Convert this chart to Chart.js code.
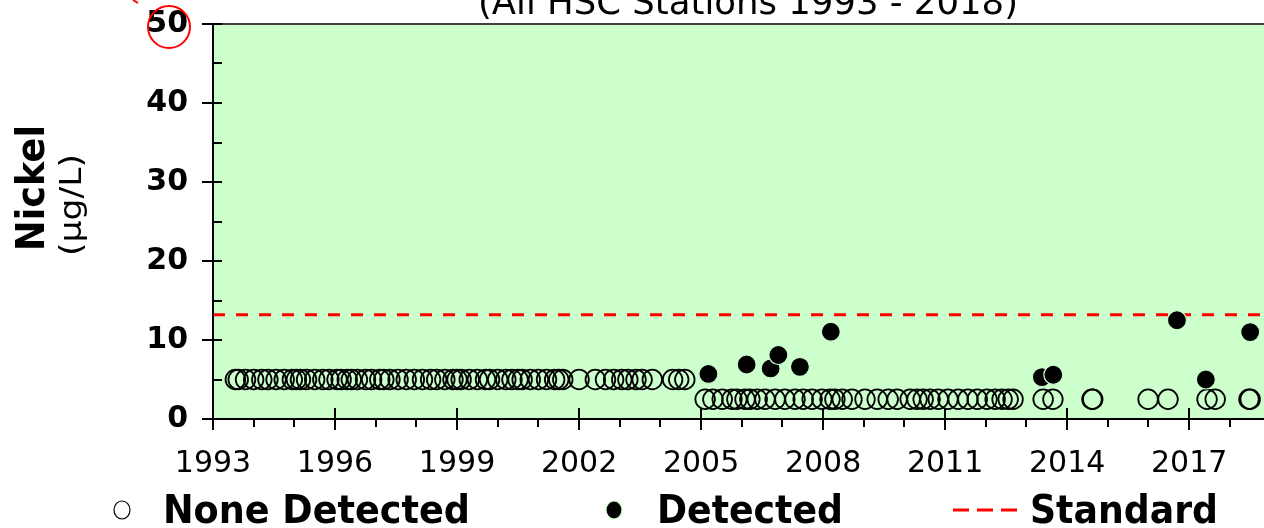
<!DOCTYPE html>
<html>
<head>
<meta charset="utf-8">
<script src="https://cdn.jsdelivr.net/npm/chart.js@4"></script>
<style>
  body { margin: 0; background: #fff; overflow: hidden; }
</style>
</head>
<body>
<canvas id="chart" width="1264" height="528"></canvas>
<script>
// sample dates (decimal years) and results
const noneDetectedDates = [
  1993.55, 1993.62, 1993.8, 1994.0, 1994.2, 1994.35, 1994.55, 1994.75, 1994.95, 1995.05,
  1995.15, 1995.3, 1995.5, 1995.7, 1995.85, 1996.05, 1996.15, 1996.3, 1996.4, 1996.55,
  1996.75, 1996.9, 1997.1, 1997.2, 1997.35, 1997.55, 1997.75, 1997.95, 1998.15, 1998.35,
  1998.5, 1998.7, 1998.9, 1999.0, 1999.1, 1999.3, 1999.5, 1999.7, 1999.8, 2000.0,
  2000.2, 2000.35, 2000.5, 2000.6, 2000.8, 2001.0, 2001.2, 2001.4, 2001.5, 2001.6,
  2002.0, 2002.4, 2002.65, 2002.85, 2003.05, 2003.2, 2003.4, 2003.55, 2003.8, 2004.3,
  2004.45, 2004.6,
  2005.1, 2005.29, 2005.52, 2005.76, 2005.88, 2006.08, 2006.2, 2006.38, 2006.57, 2006.82,
  2007.06, 2007.31, 2007.51, 2007.73, 2007.97, 2008.17, 2008.29, 2008.47, 2008.71, 2009.03,
  2009.33, 2009.6, 2009.82, 2010.14, 2010.31, 2010.46, 2010.63, 2010.83, 2011.07, 2011.32,
  2011.56, 2011.79, 2012.03, 2012.23, 2012.4, 2012.55, 2012.67,
  2013.41, 2013.65, 2014.61, 2014.63, 2015.99, 2016.48, 2017.44, 2017.64, 2018.47, 2018.5
];
const noneDetectedValues = [
  5, 5, 5, 5, 5, 5, 5, 5, 5, 5,
  5, 5, 5, 5, 5, 5, 5, 5, 5, 5,
  5, 5, 5, 5, 5, 5, 5, 5, 5, 5,
  5, 5, 5, 5, 5, 5, 5, 5, 5, 5,
  5, 5, 5, 5, 5, 5, 5, 5, 5, 5,
  5, 5, 5, 5, 5, 5, 5, 5, 5, 5,
  5, 5,
  2.5, 2.5, 2.5, 2.5, 2.5, 2.5, 2.5, 2.5, 2.5, 2.5,
  2.5, 2.5, 2.5, 2.5, 2.5, 2.5, 2.5, 2.5, 2.5, 2.5,
  2.5, 2.5, 2.5, 2.5, 2.5, 2.5, 2.5, 2.5, 2.5, 2.5,
  2.5, 2.5, 2.5, 2.5, 2.5, 2.5, 2.5,
  2.5, 2.5, 2.5, 2.5, 2.5, 2.5, 2.5, 2.5, 2.5, 2.5
];
const detectedDates = [2005.18, 2006.12, 2006.71, 2006.9, 2007.43, 2008.19, 2013.38, 2013.66, 2016.7, 2017.41, 2018.5];
const detectedValues = [5.7, 6.9, 6.4, 8.1, 6.6, 11.05, 5.3, 5.6, 12.5, 5.0, 11.0];
const standardValue = 13.2;

const xYears = [1993, 1994, 1995, 1996, 1997, 1998, 1999, 2000, 2001, 2002, 2003, 2004, 2005,
  2006, 2007, 2008, 2009, 2010, 2011, 2012, 2013, 2014, 2015, 2016, 2017, 2018];
const xTickLabels = [1993, 1996, 1999, 2002, 2005, 2008, 2011, 2014, 2017];
const yTicks = [0, 5, 10, 15, 20, 25, 30, 35, 40, 45, 50];
const yTickLabels = [0, 10, 20, 30, 40, 50];

const xMin = 1993, xMax = 2018.84;

const GREEN = "#ccffcc";
const FONT = "'DejaVu Sans', Verdana, sans-serif";

function toPoints(xs, ys) {
  return xs.map((x, i) => ({ x: x, y: ys[i] }));
}

// text stretched or squeezed horizontally to a given width
function fitText(ctx, text, x, y, width) {
  let w = ctx.measureText(text).width;
  let s = width / w;
  ctx.save();
  ctx.translate(x, y);
  ctx.scale(s, 1);
  ctx.fillText(text, 0, 0);
  ctx.restore();
}

const decorations = {
  id: "decorations",
  beforeDraw(chart) {
    let { ctx, chartArea: a } = chart;
    ctx.save();
    ctx.fillStyle = GREEN;
    ctx.fillRect(a.left, a.top, a.right - a.left, a.bottom - a.top);
    ctx.restore();
  },
  afterDraw(chart) {
    let { ctx, chartArea: a } = chart;
    let xs = chart.scales.x, ys = chart.scales.y;
    ctx.save();

    // frame
    ctx.strokeStyle = "#404040";
    ctx.lineWidth = 2;
    ctx.beginPath();
    ctx.moveTo(a.left, a.top);
    ctx.lineTo(a.right, a.top);
    ctx.stroke();
    ctx.strokeStyle = "#000";
    ctx.beginPath();
    ctx.moveTo(a.left, a.top - 1);
    ctx.lineTo(a.left, a.bottom);
    ctx.lineTo(a.right, a.bottom);
    ctx.stroke();

    // y ticks
    yTicks.forEach((v) => {
      let y = Math.round(ys.getPixelForValue(v));
      let major = yTickLabels.includes(v);
      ctx.beginPath();
      ctx.moveTo(major ? a.left - 11 : a.left, y);
      ctx.lineTo(a.left + 9, y);
      ctx.stroke();
    });
    // x ticks
    xYears.forEach((v) => {
      let x = Math.round(xs.getPixelForValue(v));
      let major = xTickLabels.includes(v);
      ctx.beginPath();
      ctx.moveTo(x, major ? a.bottom - 11 : a.bottom);
      ctx.lineTo(x, major ? a.bottom + 11 : a.bottom + 8);
      ctx.stroke();
    });

    // title (cut off at the top)
    ctx.fillStyle = "#000";
    ctx.font = "35px " + FONT;
    ctx.textAlign = "left";
    ctx.textBaseline = "alphabetic";
    fitText(ctx, "(All HSC Stations 1993 - 2018)", 478, 14, 540);

    // y axis title
    ctx.save();
    ctx.translate(44, 251);
    ctx.rotate(-Math.PI / 2);
    ctx.font = "bold 39px " + FONT;
    fitText(ctx, "Nickel", 0, 0, 126);
    ctx.restore();
    ctx.save();
    ctx.translate(81, 256);
    ctx.rotate(-Math.PI / 2);
    ctx.font = "30px " + FONT;
    fitText(ctx, "(µg/L)", 0, 0, 102);
    ctx.restore();

    // red circle around the top label
    ctx.strokeStyle = "#ff0000";
    ctx.lineWidth = 2;
    ctx.beginPath();
    ctx.arc(169, 27, 21, 0, Math.PI * 2);
    ctx.stroke();
    ctx.beginPath();
    ctx.moveTo(133, 0);
    ctx.lineTo(138, 3);
    ctx.stroke();

    // legend
    let ly = 510;
    ctx.lineWidth = 1.2;
    ctx.strokeStyle = "#000";
    ctx.fillStyle = "#fff";
    ctx.beginPath();
    ctx.ellipse(122, ly, 8, 9, 0, 0, Math.PI * 2);
    ctx.fill();
    ctx.stroke();
    ctx.fillStyle = "#000";
    ctx.strokeStyle = GREEN;
    ctx.beginPath();
    ctx.ellipse(614, ly, 8, 9, 0, 0, Math.PI * 2);
    ctx.fill();
    ctx.stroke();
    ctx.strokeStyle = "#ff0000";
    ctx.lineWidth = 3;
    ctx.setLineDash([16, 8]);
    ctx.beginPath();
    ctx.moveTo(953, ly);
    ctx.lineTo(1019, ly);
    ctx.stroke();
    ctx.setLineDash([]);

    ctx.fillStyle = "#000";
    ctx.font = "bold 39px " + FONT;
    ctx.textBaseline = "alphabetic";
    fitText(ctx, "None Detected", 163, 523, 307);
    fitText(ctx, "Detected", 657, 523, 186);
    fitText(ctx, "Standard", 1030, 523, 188);

    ctx.restore();
  },
};

const ctx = document.getElementById("chart").getContext("2d");
new Chart(ctx, {
  type: "scatter",
  data: {
    datasets: [
      {
        label: "Detected",
        data: toPoints(detectedDates, detectedValues),
        pointRadius: 9.5,
        pointBackgroundColor: "#000",
        pointBorderColor: GREEN,
        pointBorderWidth: 1.2,
        order: 0,
      },
      {
        label: "Standard",
        type: "line",
        data: [
          { x: xMin, y: standardValue },
          { x: xMax, y: standardValue },
        ],
        borderColor: "#ff0000",
        borderWidth: 3,
        borderDash: [12, 11],
        pointRadius: 0,
        fill: false,
        order: 1,
      },
      {
        label: "None Detected",
        data: toPoints(noneDetectedDates, noneDetectedValues),
        pointRadius: 9.8,
        pointBackgroundColor: "rgba(0,0,0,0)",
        pointBorderColor: "#000",
        pointBorderWidth: 1.8,
        order: 2,
      },
    ],
  },
  options: {
    responsive: false,
    animation: false,
    events: [],
    layout: { autoPadding: false, padding: { top: 24, right: 0, bottom: 0, left: 0 } },
    plugins: {
      legend: { display: false },
      tooltip: { enabled: false },
    },
    scales: {
      x: {
        type: "linear",
        min: xMin,
        max: xMax,
        grid: { display: false, drawTicks: false },
        border: { display: false },
        afterBuildTicks: (scale) => {
          scale.ticks = xYears.map((v) => ({ value: v }));
        },
        afterFit: (scale) => {
          scale.height = 109;
          scale.paddingLeft = 0;
          scale.paddingRight = 0;
        },
        ticks: {
          autoSkip: false,
          maxRotation: 0,
          padding: 27,
          color: "#000",
          font: { family: FONT, size: 30 },
          callback: (v) => (xTickLabels.includes(v) ? String(v) : ""),
        },
      },
      y: {
        min: 0,
        max: 50,
        grid: { display: false, drawTicks: false },
        border: { display: false },
        afterBuildTicks: (scale) => {
          scale.ticks = yTicks.map((v) => ({ value: v }));
        },
        afterFit: (scale) => {
          scale.width = 213;
          scale.paddingTop = 0;
          scale.paddingBottom = 0;
        },
        ticks: {
          autoSkip: false,
          padding: 25,
          color: "#000",
          font: { family: FONT, size: 30, weight: "bold" },
          callback: (v) => (yTickLabels.includes(v) ? String(v) : ""),
        },
      },
    },
  },
  plugins: [decorations],
});
</script>
</body>
</html>
